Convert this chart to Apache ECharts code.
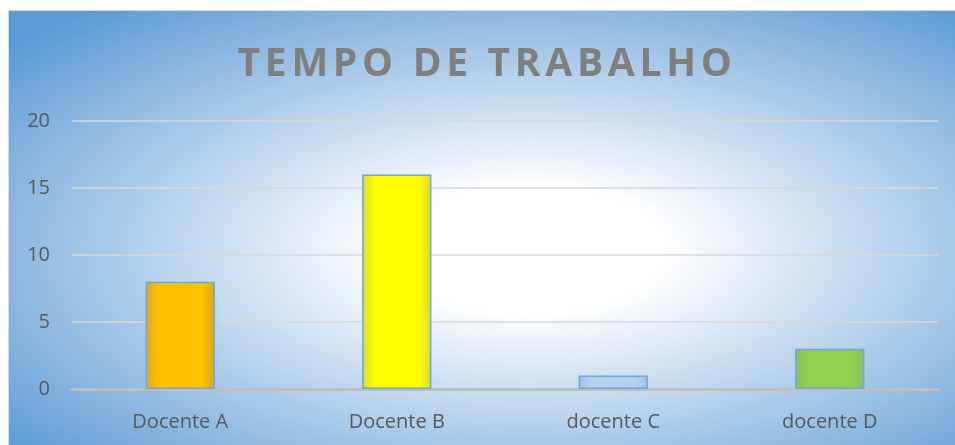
<!DOCTYPE html>
<html>
<head>
<meta charset="utf-8">
<script src="https://cdn.jsdelivr.net/npm/echarts@6/dist/echarts.min.js"></script>
<style>
html,body{margin:0;padding:0;background:#fff;}
#c{width:955px;height:445px;}
</style>
</head>
<body>
<div id="c"></div>
<script>
const titleText = 'TEMPO DE TRABALHO';
const categories = ['Docente A', 'Docente B', 'docente C', 'docente D'];
const values = [8, 16, 1, 3];
const yTicks = [0, 5, 10, 15, 20];

const barFills = [
  ['#d7a62a', '#ffc000'],
  ['#d6dc3a', '#ffff00'],
  ['#9ec0e4', '#b7d1ec'],
  ['#86c060', '#92d050']
];

// letter spacing for the title text (canvas letterSpacing)
(function () {
  const proto = CanvasRenderingContext2D.prototype;
  const orig = proto.fillText;
  proto.fillText = function (t, x, y, m) {
    if (typeof this.font === 'string' && this.font.indexOf('39px') >= 0 && 'letterSpacing' in this) {
      const prev = this.letterSpacing;
      this.letterSpacing = '4.7px';
      const r = m === undefined ? orig.call(this, t, x, y) : orig.call(this, t, x, y, m);
      this.letterSpacing = prev;
      return r;
    }
    return m === undefined ? orig.call(this, t, x, y) : orig.call(this, t, x, y, m);
  };
})();

function barColor(i) {
  const [edge, mid] = barFills[i];
  return {
    type: 'linear', x: 0, y: 0, x2: 1, y2: 0,
    colorStops: [
      {offset: 0, color: edge},
      {offset: 0.18, color: mid},
      {offset: 0.82, color: mid},
      {offset: 1, color: edge}
    ]
  };
}

const chart = echarts.init(document.getElementById('c'), null, {renderer: 'canvas'});
const W = 947, H = 434;
chart.setOption({
  backgroundColor: '#ffffff',
  animation: false,
  graphic: [
    {
      type: 'rect', z: -100, silent: true,
      x: 8, y: 11, scaleY: H / W,
      shape: {x: 0, y: 0, width: W, height: W},
      style: {
        fill: {
          type: 'radial', x: 0.55, y: 0.55, r: 0.72,
          colorStops: [
            {offset: 0, color: '#ffffff'},
            {offset: 0.2, color: '#ffffff'},
            {offset: 0.48, color: '#c6dbf0'},
            {offset: 0.75, color: '#8fb9e2'},
            {offset: 1, color: '#5b9bd5'}
          ]
        }
      }
    },
    {
      type: 'polyline', z: -99, silent: true,
      shape: {points: [[8.5, 445], [8.5, 10.5], [955, 10.5]]},
      style: {stroke: '#d9d9d9', lineWidth: 1, fill: null}
    }
  ],
  title: {
    text: titleText,
    left: 482, top: 40, textAlign: 'center',
    textStyle: {
      fontFamily: 'Open Sans', fontWeight: 'bold', fontSize: 39,
      color: '#7f7f7f'
    }
  },
  grid: {left: 72, right: 17, top: 121, bottom: 56, containLabel: false},
  xAxis: {
    type: 'category',
    data: categories,
    axisLine: {lineStyle: {color: '#bfbfbf', width: 3}},
    axisTick: {show: false},
    axisLabel: {
      color: '#595959', fontFamily: 'Open Sans', fontSize: 20, margin: 23
    }
  },
  yAxis: {
    type: 'value', min: yTicks[0], max: yTicks[yTicks.length - 1], interval: 5,
    axisLine: {show: false},
    axisTick: {show: false},
    splitLine: {lineStyle: {color: '#d9d9d9', width: 1.5}},
    axisLabel: {
      color: '#595959', fontFamily: 'Open Sans', fontSize: 20, margin: 22
    }
  },
  series: [{
    type: 'bar',
    barWidth: '32%',
    data: values.map((v, i) => ({
      value: v,
      itemStyle: {color: barColor(i), borderColor: '#6fa6dc', borderWidth: 1.5}
    }))
  }]
});
</script>
</body>
</html>
